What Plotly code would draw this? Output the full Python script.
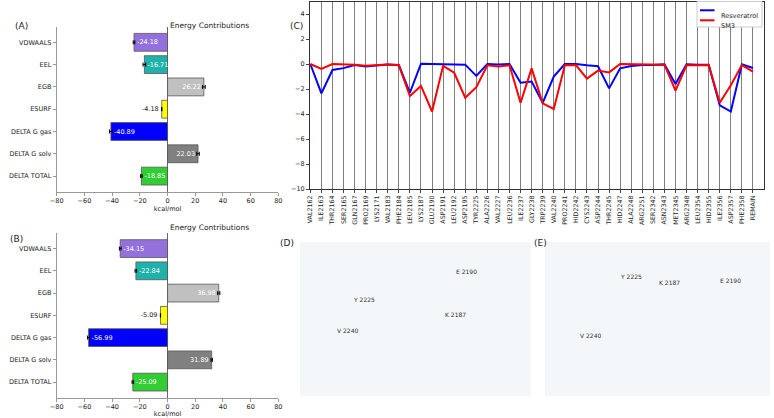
import plotly.graph_objects as go

# ---------------- data ----------------
terms = ["VDWAALS", "EEL", "EGB", "ESURF", "DELTA G gas", "DELTA G solv", "DELTA TOTAL"]
term_colors = ["#9370DB", "#20B2AA", "#C0C0C0", "#FFFF00", "#0000FF", "#808080", "#32CD32"]

res_energy = [-24.18, -16.71, 26.22, -4.18, -40.89, 22.03, -18.85]
res_err = [0.6, 1.0, 1.0, 0.1, 1.0, 0.9, 0.6]

sm3_energy = [-34.15, -22.84, 36.98, -5.09, -56.99, 31.89, -25.09]
sm3_err = [0.6, 0.6, 0.8, 0.1, 0.8, 0.5, 0.5]

residues = ["VAL2162", "ILE2163", "THR2164", "SER2165", "GLN2167", "PRO2169", "LYS2171",
            "VAL2183", "PHE2184", "LEU2185", "LYS2187", "GLU2190", "ASP2191", "LEU2192",
            "ASP2195", "TYR2225", "ALA2226", "VAL2227", "LEU2236", "ILE2237", "GLY2238",
            "TRP2239", "VAL2240", "PRO2241", "HID2242", "CYS2243", "ASP2244", "THR2245",
            "HID2247", "ALA2248", "ARG2251", "SER2342", "ASN2343", "MET2345", "ARG2348",
            "LEU2354", "HID2355", "ILE2356", "ASP2357", "PHE2358", "REMAIN"]

resveratrol_decomp = [0.0, -2.35, -0.48, -0.33, -0.08, -0.2, -0.12, -0.03, -0.08, -2.3,
                      0.02, 0.0, 0.0, -0.02, -0.05, -0.95, 0.0, -0.03, 0.0, -1.5, -1.4,
                      -3.1, -1.0, 0.0, 0.0, -0.1, -0.18, -1.95, -0.35, -0.16, -0.08,
                      -0.08, -0.03, -1.6, -0.03, -0.05, -0.05, -3.3, -3.8, -0.03, -0.32]
sm3_decomp = [0.0, -0.4, 0.0, 0.0, -0.05, -0.13, -0.05, -0.03, -0.1, -2.55,
              -1.75, -3.8, -0.15, -0.7, -2.7, -1.85, -0.1, -0.2, -0.1, -3.1, -0.35,
              -3.15, -3.6, -0.1, -0.08, -1.17, -0.53, -0.67, 0.0, 0.0, 0.0,
              -0.05, -0.05, -2.13, -0.1, -0.1, -0.08, -3.1, -1.7, -0.08, -0.6]

series_names = ["Resveratrol", "SM3"]
series_colors = ["#0000FF", "#FF0000"]

FONT = "DejaVu Sans"
W, H = 774, 418
fig = go.Figure()


def px_x(p):
    return p / W


def px_y(p):
    return 1 - p / H


def add_energy(values, errs, xa, ya):
    labels = ["%.2f" % v for v in values]
    pos = ["outside" if abs(v) < 8 else "inside" for v in values]
    tcol = ["#222222" if abs(v) < 8 else "white" for v in values]
    fig.add_trace(go.Bar(
        y=terms, x=values, orientation="h", xaxis=xa, yaxis=ya,
        marker=dict(color=term_colors, line=dict(color="#555555", width=0.8)),
        width=0.8, text=labels, textposition=pos, insidetextanchor="end",
        textfont=dict(color=tcol, size=6.5, family=FONT),
        error_x=dict(type="data", array=errs, color="black", thickness=1, width=2),
        cliponaxis=False, showlegend=False,
    ))


add_energy(res_energy, res_err, "x", "y")
add_energy(sm3_energy, sm3_err, "x2", "y2")

for name, vals, col in zip(series_names, [resveratrol_decomp, sm3_decomp], series_colors):
    fig.add_trace(go.Scatter(x=residues, y=vals, mode="lines", name=name,
                             line=dict(color=col, width=2), xaxis="x3", yaxis="y3",
                             showlegend=False))

tickfont = dict(size=6.5, family=FONT, color="#222222")
bar_x = dict(range=[-80, 80], tickvals=[-80, -60, -40, -20, 0, 20, 40, 60, 80],
             ticktext=["\u221280", "\u221260", "\u221240", "\u221220", "0", "20", "40", "60", "80"],
             showgrid=False, zeroline=True, zerolinecolor="#666666", zerolinewidth=1,
             showline=True, linecolor="#999999", linewidth=1, ticks="outside",
             ticklen=3, tickcolor="#999999", tickfont=tickfont, automargin=False,
             title=dict(text="kcal/mol", font=dict(size=6.5, family=FONT, color="#222222"), standoff=0))
bar_y = dict(range=[6.7, -0.7], showgrid=False, showline=True, linecolor="#999999",
             linewidth=1, ticks="outside", ticklen=3, tickcolor="#999999", tickfont=tickfont,
             automargin=False)

fig.update_layout(
    width=W, height=H, margin=dict(l=0, r=0, t=0, b=0),
    paper_bgcolor="white", plot_bgcolor="white",
    font=dict(family=FONT, size=7, color="#222222"),
    uniformtext=dict(minsize=6.5, mode="show"),
    showlegend=False,
    xaxis=dict(domain=[0.0733, 0.3596], anchor="y", **bar_x),
    yaxis=dict(domain=[0.5414, 0.9361], anchor="x", **bar_y),
    xaxis2=dict(domain=[0.0733, 0.3596], anchor="y2", **bar_x),
    yaxis2=dict(domain=[0.0486, 0.4426], anchor="x2", **bar_y),
    xaxis3=dict(domain=[0.4005, 0.9871], anchor="y3", range=[-0.03, 41],
                showgrid=True, gridcolor="#808080", gridwidth=1,
                showline=True, mirror=True, linecolor="#333333", linewidth=1,
                ticks="outside", ticklen=3, tickangle=-90, automargin=False,
                tickfont=dict(size=6.3, family=FONT, color="#222222")),
    yaxis3=dict(domain=[0.5478, 0.9964], anchor="x3", range=[-10, 5],
                tickvals=[-10, -8, -6, -4, -2, 0, 2, 4],
                ticktext=["\u221210", "\u22128", "\u22126", "\u22124", "\u22122", "0", "2", "4"],
                showgrid=False, zeroline=False, automargin=False,
                showline=True, mirror=True, linecolor="#333333", linewidth=1,
                ticks="outside", ticklen=3,
                tickfont=dict(size=6.5, family=FONT, color="#222222")),
    bargap=0.2,
)

# compact legend for panel C (drawn above the grid)
fig.add_shape(type="rect", xref="paper", yref="paper", x0=px_x(697), x1=px_x(762),
              y0=px_y(27), y1=px_y(1.5), line=dict(color="#cccccc", width=1),
              fillcolor="rgba(255,255,255,1)", opacity=1, layer="above")
for i, (name, col) in enumerate(zip(series_names, series_colors)):
    yy = 10.3 + i * 10
    fig.add_shape(type="line", xref="paper", yref="paper", x0=px_x(700), x1=px_x(714.5),
                  y0=px_y(yy), y1=px_y(yy), line=dict(color=col, width=2), layer="above")
    fig.add_annotation(text=name, x=px_x(719), y=px_y(yy), xref="paper", yref="paper",
                       xanchor="left", showarrow=False,
                       font=dict(size=6.5, family=FONT, color="#222222"))

# titles
fig.add_annotation(text="Energy Contributions", x=0.2165, y=px_y(19), xref="paper", yref="paper",
                   showarrow=False, font=dict(size=7.5, family=FONT, color="#222222"))
fig.add_annotation(text="Energy Contributions", x=0.2165, y=px_y(227), xref="paper", yref="paper",
                   showarrow=False, font=dict(size=7.5, family=FONT, color="#222222"))

# panel letters
for txt, px, py in [("(A)", 13, 19), ("(B)", 8, 239), ("(C)", 296, 19), ("(D)", 287, 243), ("(E)", 549, 243)]:
    fig.add_annotation(text=txt, x=px_x(px), y=px_y(py), xref="paper", yref="paper",
                       showarrow=False, font=dict(size=9, family=FONT, color="#222222"))

# structure image areas (placeholders for the rendered structures)
for x0, x1 in [(300, 531), (545, 770)]:
    fig.add_shape(type="rect", xref="paper", yref="paper", x0=px_x(x0), x1=px_x(x1),
                  y0=px_y(396), y1=px_y(242), line=dict(width=0),
                  fillcolor="#f3f7f9", layer="below")

for txt, px, py in [("E 2190", 466, 271), ("Y 2225", 364, 305), ("K 2187", 455, 320), ("V 2240", 347, 336),
                    ("Y 2225", 644, 282), ("K 2187", 682, 288), ("E 2190", 743, 286), ("V 2240", 603, 341)]:
    fig.add_annotation(text=txt, x=px_x(px), y=px_y(py), xref="paper", yref="paper",
                       showarrow=False, font=dict(size=6, family=FONT, color="#333333"))

fig.write_html("out.html", config={"displayModeBar": False},
               post_script="document.body.style.margin='0';document.body.style.overflow='hidden';")
